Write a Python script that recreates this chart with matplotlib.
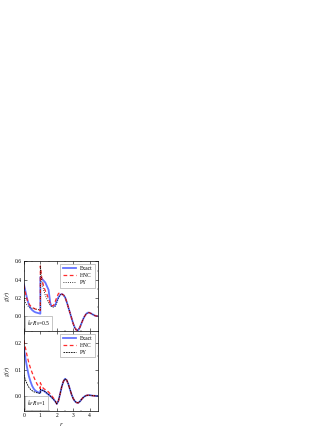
import matplotlib
matplotlib.use("Agg")
import matplotlib.pyplot as plt

plt.rcParams['font.family'] = ['Liberation Serif', 'DejaVu Serif']
plt.rcParams['mathtext.fontset'] = 'stix'

# ---- top panel, k_F R_0 = 0.5 ----
r_a = [0, 0.1, 0.2, 0.3, 0.4, 0.5, 0.6, 0.7, 0.8, 0.9, 1.0, 1.0, 1.1, 1.2, 1.3,
       1.4, 1.5, 1.55, 1.6, 1.65, 1.7, 1.8, 1.9, 2.0, 2.1, 2.2]
exact_a = [0.35, 0.27, 0.19, 0.13, 0.09, 0.07, 0.055, 0.045, 0.04, 0.035, 0.03,
           0.43, 0.41, 0.39, 0.37, 0.33, 0.29, 0.22, 0.15, 0.12, 0.115, 0.115,
           0.12, 0.17, 0.21, 0.235]
r_b = [0, 0.1, 0.2, 0.3, 0.4, 0.5, 0.6, 0.7, 0.8, 0.9, 1.0, 1.0, 1.1, 1.2, 1.3,
       1.4, 1.5, 1.6, 1.7, 1.8, 1.9, 2.0, 2.1, 2.2]
hnc_a = [0.34, 0.25, 0.18, 0.14, 0.115, 0.10, 0.09, 0.08, 0.075, 0.07, 0.065,
         0.55, 0.40, 0.33, 0.28, 0.24, 0.19, 0.14, 0.115, 0.12, 0.16, 0.21,
         0.25, 0.26]
py_a = [0.20, 0.15, 0.12, 0.105, 0.095, 0.09, 0.085, 0.08, 0.078, 0.075, 0.07,
        0.55, 0.36, 0.29, 0.23, 0.19, 0.15, 0.12, 0.105, 0.10, 0.11, 0.15,
        0.20, 0.235]
r_tail_a = [2.3, 2.4, 2.5, 2.6, 2.7, 2.8, 2.9, 3.0, 3.1, 3.2, 3.3, 3.4, 3.5,
            3.6, 3.7, 3.8, 3.9, 4.0, 4.1, 4.2, 4.3, 4.4, 4.5]
tail_a = [0.245, 0.235, 0.21, 0.16, 0.10, 0.04, -0.02, -0.08, -0.125, -0.15,
          -0.15, -0.12, -0.075, -0.03, 0.005, 0.03, 0.042, 0.04, 0.03, 0.02,
          0.01, 0.005, 0.003]

# ---- bottom panel, k_F R_0 = 1 ----
r_c = [0, 0.1, 0.2, 0.3, 0.4, 0.5, 0.6, 0.7, 0.8, 0.9, 1.0, 1.0, 1.1, 1.2, 1.3,
       1.4, 1.5, 1.6, 1.7, 1.8, 1.9]
exact_b = [0.18, 0.14, 0.105, 0.075, 0.055, 0.038, 0.027, 0.02, 0.016, 0.013,
           0.012, 0.02, 0.022, 0.02, 0.015, 0.01, 0.005, 0.0, -0.006, -0.012,
           -0.02]
hnc_b = [0.21, 0.18, 0.15, 0.125, 0.105, 0.088, 0.072, 0.058, 0.045, 0.035,
         0.028, 0.05, 0.035, 0.028, 0.024, 0.02, 0.015, 0.008, 0.0, -0.008,
         -0.017]
py_b = [0.08, 0.06, 0.045, 0.033, 0.025, 0.02, 0.016, 0.014, 0.012, 0.011,
        0.01, 0.025, 0.022, 0.02, 0.016, 0.011, 0.006, 0.0, -0.006, -0.013,
        -0.02]
r_tail_b = [2.0, 2.1, 2.2, 2.3, 2.4, 2.5, 2.6, 2.7, 2.8, 2.9, 3.0, 3.1, 3.2,
            3.3, 3.4, 3.5, 3.6, 3.7, 3.8, 3.9, 4.0, 4.2, 4.5]
tail_b = [-0.03, -0.018, 0.008, 0.035, 0.055, 0.065, 0.06, 0.045, 0.025,
          0.005, -0.01, -0.02, -0.025, -0.026, -0.021, -0.013, -0.006, -0.001,
          0.002, 0.003, 0.003, 0.001, 0.0]

labels = ['Exact', 'HNC', 'PY']
boxes = [r'$k_F\,R_0$=0.5', r'$k_F\,R_0$=1']

fig = plt.figure(figsize=(3.32, 4.30), dpi=100)
ax1 = fig.add_axes([0.072, 0.230, 0.223, 0.162])
ax2 = fig.add_axes([0.072, 0.044, 0.223, 0.186], sharex=ax1)

blue = '#4a5cff'
red = '#ff2a2a'

panels = [
    (ax1, r_a, r_b, exact_a, hnc_a, py_a, r_tail_a, tail_a, ':'),
    (ax2, r_c, r_c, exact_b, hnc_b, py_b, r_tail_b, tail_b, (0, (2, 1))),
]
for ax, rx, rh, ex, hn, py, rt, tl, pyst in panels:
    ax.plot(rx + rt, ex + tl, color=blue, lw=1.3, alpha=0.85, label=labels[0])
    ax.plot(rh + rt, hn + tl, color=red, lw=0.9, ls=(0, (3, 2)), label=labels[1])
    ax.plot(rh + rt, py + tl, color='black', lw=0.6, ls=pyst, label=labels[2])
    ax.tick_params(direction='in', top=True, right=True, labelsize=4,
                   length=2, width=0.4, pad=1.5)
    ax.tick_params(which='minor', direction='in', top=True, right=True,
                   length=1, width=0.3)
    for s in ax.spines.values():
        s.set_linewidth(0.5)
    ax.set_ylabel(r'$g(r)$', fontsize=4.5, labelpad=2)
    ax.legend(loc='upper right', fontsize=4, handlelength=2.4,
              labelspacing=0.35, borderpad=0.4, frameon=True, fancybox=False,
              edgecolor='0.6', framealpha=1).get_frame().set_linewidth(0.4)

ax1.set_xlim(0, 4.5)
ax1.set_ylim(-0.16, 0.6)
ax1.set_yticks([0.0, 0.2, 0.4, 0.6])
ax1.set_yticks([0.1, 0.3, 0.5], minor=True)
ax1.tick_params(labelbottom=False)
ax2.set_ylim(-0.057, 0.245)
ax2.set_yticks([0.0, 0.1, 0.2])
ax2.set_yticks([0.05, 0.15], minor=True)
ax2.set_xticks([0, 1, 2, 3, 4])
ax2.set_xticks([0.5, 1.5, 2.5, 3.5], minor=True)
ax2.set_xlabel(r'$r$', fontsize=4.5, labelpad=2)

for ax, txt in zip([ax1, ax2], boxes):
    ax.text(0.04, 0.04, txt, transform=ax.transAxes, fontsize=4,
            ha='left', va='bottom',
            bbox=dict(boxstyle='square,pad=0.4', fc='white', ec='0.6', lw=0.4))

fig.savefig('out.png', dpi=100)
